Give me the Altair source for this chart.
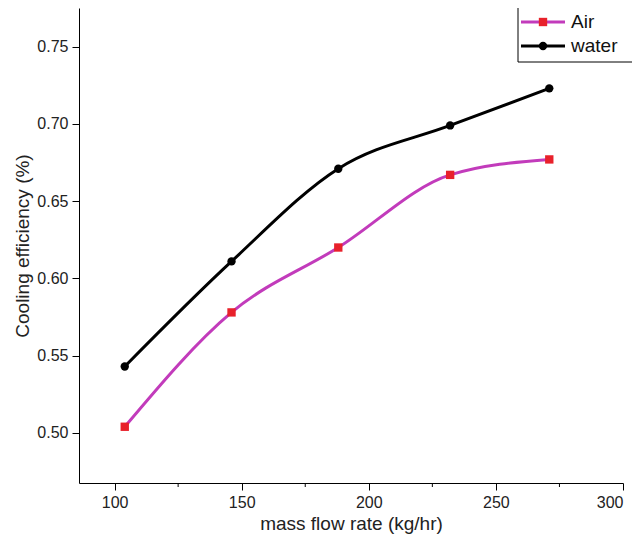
import altair as alt
import pandas as pd

flow = [104, 146, 188, 232, 271]
air = [0.504, 0.578, 0.620, 0.667, 0.677]
water = [0.543, 0.611, 0.671, 0.699, 0.723]

df = pd.DataFrame({
    "flow": flow * 2,
    "eff": air + water,
    "series": ["Air"] * 5 + ["water"] * 5,
})

xs = alt.Scale(domain=[86, 300], nice=False, zero=False)
ys = alt.Scale(domain=[0.4676, 0.775], nice=False, zero=False)
font = "Liberation Sans"

x_axis = alt.Axis(values=[100, 150, 200, 250, 300], title="mass flow rate (kg/hr)",
                  grid=False, domainColor="black", tickColor="black", tickSize=7,
                  labelFontSize=16, titleFontSize=19, labelColor="#222", titleColor="#222",
                  labelFont=font, titleFont=font, titleFontWeight="normal", labelPadding=4)
y_axis = alt.Axis(values=[0.5, 0.55, 0.6, 0.65, 0.7, 0.75], format=".2f",
                  title="Cooling efficiency (%)", grid=False, domainColor="black",
                  tickColor="black", tickSize=7, labelFontSize=16, titleFontSize=19,
                  labelColor="#222", titleColor="#222", labelFont=font, titleFont=font,
                  titleFontWeight="normal", labelPadding=4)

base = alt.Chart(df)
colors = alt.Scale(domain=["Air", "water"], range=["#c23bbb", "#000000"])
pcolors = alt.Scale(domain=["Air", "water"], range=["#e8212b", "#000000"])
shapes = alt.Scale(domain=["Air", "water"], range=["square", "circle"])

lines = base.mark_line(interpolate="monotone", strokeWidth=3).encode(
    x=alt.X("flow:Q", scale=xs, axis=x_axis),
    y=alt.Y("eff:Q", scale=ys, axis=y_axis),
    color=alt.Color("series:N", scale=colors, legend=None),
)
pts = base.mark_point(filled=True, opacity=1, size=70).encode(
    x=alt.X("flow:Q", scale=xs),
    y=alt.Y("eff:Q", scale=ys),
    color=alt.Color("series:N", scale=pcolors, legend=None),
    shape=alt.Shape("series:N", scale=shapes, legend=None),
)

minor = pd.DataFrame({"v": [125, 175, 225, 275]})
xminor = alt.Chart(minor).mark_rule(color="black").encode(
    x=alt.X("v:Q", scale=xs), y=alt.value(475), y2=alt.value(479))

# legend box
leg = pd.DataFrame({"label": ["Air", "water"], "ly": [14, 38]})
box = alt.Chart(pd.DataFrame({"a": [0]})).mark_rect(fill="white", stroke="black", strokeWidth=1).encode(
    x=alt.value(439), x2=alt.value(560), y=alt.value(-6), y2=alt.value(54))
legl = alt.Chart(leg).mark_rule(strokeWidth=3).encode(
    x=alt.value(442), x2=alt.value(486), y=alt.Y("ly:Q", scale=None),
    color=alt.Color("label:N", scale=colors, legend=None))
legp = alt.Chart(leg).mark_point(filled=True, opacity=1, size=70).encode(
    x=alt.value(464), y=alt.Y("ly:Q", scale=None),
    color=alt.Color("label:N", scale=pcolors, legend=None),
    shape=alt.Shape("label:N", scale=shapes, legend=None))
legt = alt.Chart(leg).mark_text(align="left", baseline="middle", fontSize=19, font=font, color="#111").encode(
    x=alt.value(492), y=alt.Y("ly:Q", scale=None), text="label:N")

chart = alt.layer(lines, pts, xminor, box, legl, legp, legt).resolve_scale(
    color="independent", shape="independent"
).properties(
    width=544, height=475,
    autosize=alt.AutoSizeParams(type="none"),
    padding={"left": 71, "top": 0, "right": 9, "bottom": 54},
).configure_view(stroke=None)

chart.save("out.html", embed_options={"renderer": "svg", "actions": False})
